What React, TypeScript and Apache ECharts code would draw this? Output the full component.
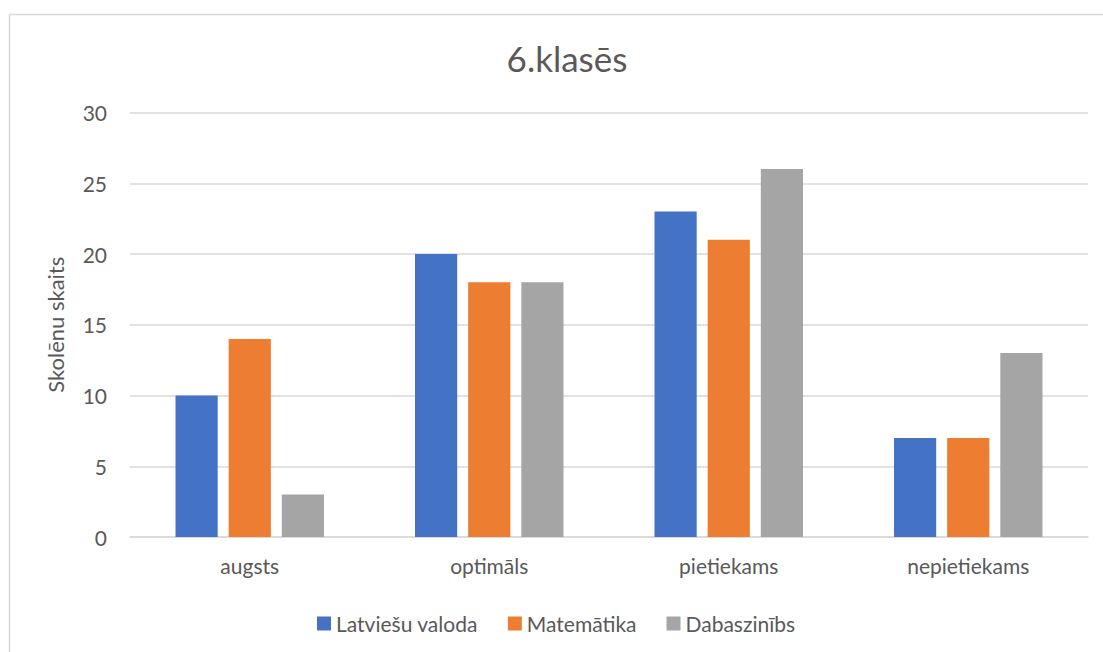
import React, { useEffect, useRef } from "react";
import * as echarts from "echarts";

const categories = ["augsts", "optimāls", "pietiekams", "nepietiekams"];
const seriesNames = ["Latviešu valoda", "Matemātika", "Dabaszinībs"];
const latviesu = [10, 20, 23, 7];
const matematika = [14, 18, 21, 7];
const dabaszinibas = [3, 18, 26, 13];
const colors = ["#4472c4", "#ed7d31", "#a5a5a5"];
const titleText = "6.klasēs";
const yAxisName = "Skolēnu skaits";

const FONT = "Lato, 'Open Sans', sans-serif";

export default function App() {
  const ref = useRef<HTMLDivElement>(null);
  useEffect(() => {
    if (!ref.current) return;
    const chart = echarts.init(ref.current, null, { renderer: "svg" });
    const data = [latviesu, matematika, dabaszinibas];
    chart.setOption({
      animation: false,
      backgroundColor: "#ffffff",
      textStyle: { fontFamily: FONT },
      title: {
        text: titleText,
        left: 562,
        textAlign: "center",
        top: 35,
        textStyle: { fontFamily: FONT, fontSize: 35, fontWeight: "normal", color: "#595959" },
      },
      graphic: [
        {
          type: "rect",
          shape: { x: 9.5, y: 14.5, width: 1300, height: 900 },
          style: { fill: "none", stroke: "#d9d9d9", lineWidth: 1.5 },
          silent: true,
        },
      ],
      legend: {
        top: 608,
        left: 312,
        itemWidth: 14,
        itemHeight: 14,
        itemGap: 30,
        icon: "rect",
        textStyle: { fontFamily: FONT, fontSize: 21, color: "#595959" },
        data: seriesNames,
      },
      grid: { left: 130, right: 15, top: 112.5, bottom: 115, containLabel: false },
      xAxis: {
        type: "category",
        data: categories,
        axisLine: { lineStyle: { color: "#d9d9d9", width: 1.5 } },
        axisTick: { show: false },
        axisLabel: { fontFamily: FONT, fontSize: 21, color: "#595959", margin: 18 },
      },
      yAxis: {
        type: "value",
        min: 0,
        max: 30,
        interval: 5,
        name: yAxisName,
        nameLocation: "middle",
        nameGap: 64,
        nameTextStyle: { fontFamily: FONT, fontSize: 22, color: "#595959" },
        axisLine: { show: false },
        axisTick: { show: false },
        splitLine: { lineStyle: { color: "#d9d9d9", width: 1.5 } },
        axisLabel: { fontFamily: FONT, fontSize: 21, color: "#595959", margin: 23 },
      },
      series: seriesNames.map((name, i) => ({
        name,
        type: "bar",
        data: data[i],
        barGap: "26%",
        barCategoryGap: "38%",
        itemStyle: { color: colors[i] },
      })),
    });
    return () => chart.dispose();
  }, []);
  return (
    <div
      ref={ref}
      style={{ position: "fixed", left: 0, top: 0, width: 1103, height: 652 }}
    />
  );
}
